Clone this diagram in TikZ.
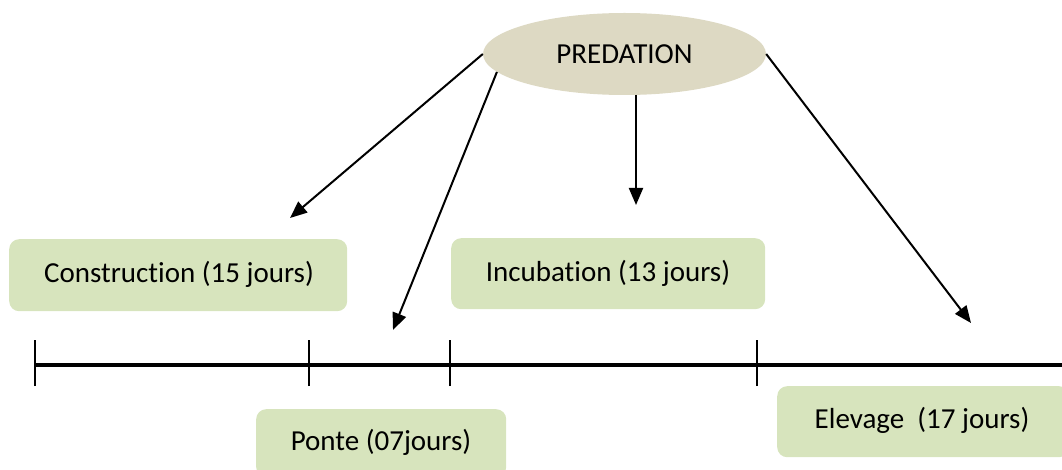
\documentclass[tikz,border=0pt]{standalone}
\usepackage{fontspec}
\setmainfont{Carlito}[Ligatures=NoCommon]
\usetikzlibrary{arrows.meta,shapes.geometric}
\definecolor{boxgreen}{HTML}{D7E4BD}
\definecolor{ovaltan}{HTML}{DDD9C3}
\begin{document}
\begin{tikzpicture}[x=1pt,y=-1pt,
  phase/.style={fill=boxgreen,rounded corners=10pt,inner sep=0pt,anchor=north west},
  lbl/.style={font=\fontsize{29}{34}\selectfont},
  arr/.style={line width=2pt,-{Triangle[length=17pt,width=14pt]}},
  tl/.style={line width=4pt},
  tick/.style={line width=2pt}]
\useasboundingbox (0,0) rectangle (1062,470);
% predation ellipse
\node[ellipse,fill=ovaltan,minimum width=283pt,minimum height=82pt,inner sep=0pt,lbl] (P) at (624.5,54) {PREDATION};
% phase boxes
\node[phase,minimum width=338pt,minimum height=72pt] (C) at (9,239) {};
\node[lbl] (Ct) at (179,274) {Construction (15 jours)};
\node[phase,minimum width=314pt,minimum height=71pt] (I) at (451,238) {};
\node[lbl] (It) at (608,273) {Incubation (13 jours)};
\node[phase,minimum width=250pt,minimum height=68pt] (Po) at (256,409) {};
\node[lbl] (Pt) at (381,442) {Ponte (07jours)};
\node[phase,minimum width=292pt,minimum height=71pt] (E) at (777,386) {};
\node[lbl] (Et) at (922,420) {Elevage\ \ (17 jours)};
% timeline
\coordinate (t0) at (35,365);
\coordinate (t1) at (309,365);
\coordinate (t2) at (450,365);
\coordinate (t3) at (757,365);
\coordinate (tend) at (1064,365);
\draw[tl] (t0) -- (tend);
\foreach \t in {t0,t1,t2,t3}{\draw[tick] ([yshift=-21pt]\t) -- ([yshift=25pt]\t);}
% arrows
\coordinate (a1) at (290,218);
\coordinate (a2) at (393,330);
\coordinate (a3) at (636,205);
\coordinate (a4) at (971,323);
\draw[arr] (P.west) -- (a1);
\draw[arr] (P.188) -- (a2);
\draw[arr] (636,95) -- (a3);
\draw[arr] (P.east) -- (a4);
\end{tikzpicture}
\end{document}
